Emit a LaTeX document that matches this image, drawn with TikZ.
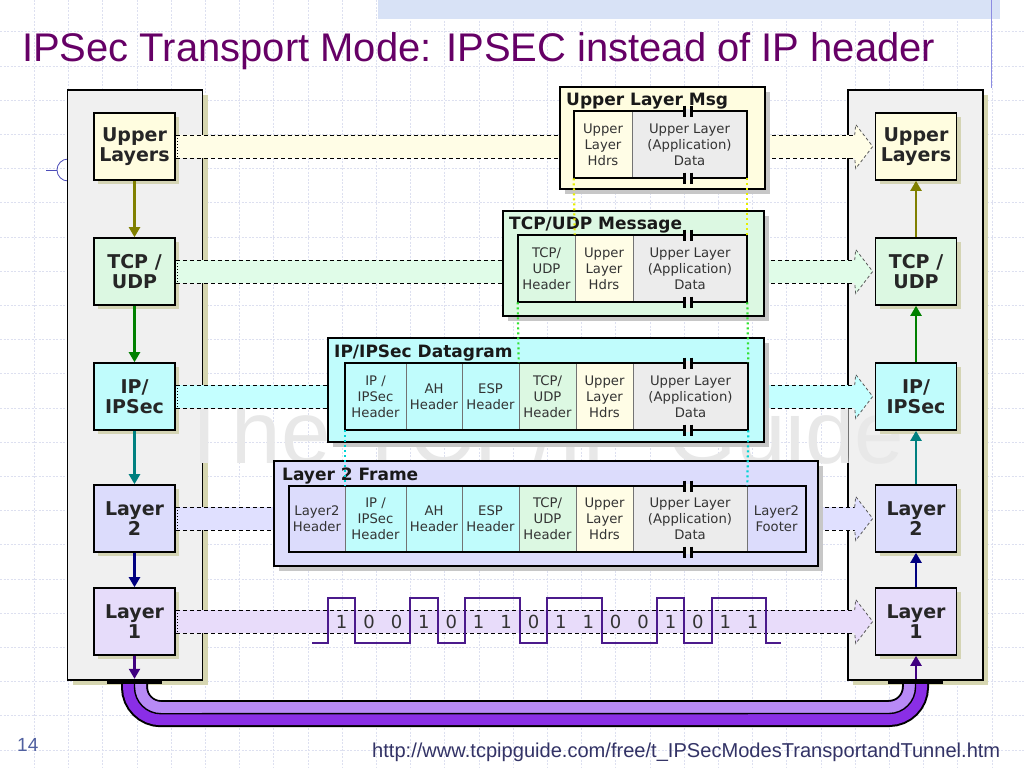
\documentclass[tikz,border=0pt]{standalone}
\usepackage{fontspec}
\setmainfont{DejaVu Sans}
\newfontfamily\lib{Liberation Sans}
\usetikzlibrary{calc,shadows,arrows.meta}
\definecolor{titlec}{HTML}{660066}
\definecolor{urlc}{HTML}{333366}
\definecolor{numc}{HTML}{5060A0}
\definecolor{gridc}{HTML}{DDE0F0}
\definecolor{bandc}{HTML}{D8E2F6}
\definecolor{panelc}{HTML}{F0F0F0}
\definecolor{pshadow}{HTML}{D6D6B0}
\definecolor{nshadow}{HTML}{D4D4B4}
\definecolor{cyel}{HTML}{FFFDE0}
\definecolor{cgrn}{HTML}{DCF8E2}
\definecolor{ccya}{HTML}{C0FCFC}
\definecolor{clav}{HTML}{DCDCFC}
\definecolor{cpur}{HTML}{E6DCFA}
\definecolor{cgry}{HTML}{ECECEC}
\definecolor{pyel}{HTML}{FFFDE6}
\definecolor{pgrn}{HTML}{E0FCE8}
\definecolor{pcya}{HTML}{C4FFFF}
\definecolor{plav}{HTML}{E0E0FF}
\definecolor{ppur}{HTML}{E8DCFA}
\definecolor{aolive}{HTML}{808000}
\definecolor{agreen}{HTML}{008000}
\definecolor{ateal}{HTML}{008080}
\definecolor{anavy}{HTML}{000080}
\definecolor{aindigo}{HTML}{400080}
\definecolor{dyel}{HTML}{E6EE00}
\definecolor{dgrn}{HTML}{30E030}
\definecolor{dcya}{HTML}{00D4D4}
\definecolor{cabA}{HTML}{8A2EE6}
\definecolor{cabB}{HTML}{B88AF6}
\definecolor{sigc}{HTML}{4B1A8C}
\newcommand\pipeseg[3]{%
  \fill[#3] ($(#1)+(0,-11.5)$) rectangle ($(#2)+(0,11.5)$);
  \draw[pipeline] ($(#1)+(0,-11.5)$) -- ($(#2)+(0,-11.5)$);
  \draw[pipeline] ($(#1)+(0,11.5)$) -- ($(#2)+(0,11.5)$);
}
\newcommand\pipehead[2]{%
  \fill[#2] ($(#1)+(0,-11.5)$) -- ($(#1)+(1,-22)$) -- ($(#1)+(18,0)$) -- ($(#1)+(1,22)$) -- ($(#1)+(0,11.5)$) -- cycle;
  \draw[headline] ($(#1)+(0,-11.5)$) -- ($(#1)+(1,-22)$) -- ($(#1)+(18,0)$) -- ($(#1)+(1,22)$) -- ($(#1)+(0,11.5)$);
}
\newcommand\cellnode[7]{%
  \node[cellbox, fill=#6, minimum width=#4pt, minimum height=#5pt] (#1) at (#2,#3) {#7};
}
\newcommand\brk[2]{%
  \fill[#2] (685.5,#1-1.8) rectangle (690.5,#1+1.8);
  \draw[line width=2.2pt] (684.5,#1-5.5) -- (684.5,#1+5.5);
  \draw[line width=2.2pt] (691.5,#1-5.5) -- (691.5,#1+5.5);
}
\tikzset{
  panel/.style={draw=black, line width=1.5pt, fill=panelc, minimum width=135pt, minimum height=590pt, inner sep=0,
    drop shadow={shadow xshift=5pt, shadow yshift=-5pt, fill=pshadow, opacity=1}},
  layer/.style={draw=black, line width=1.6pt, minimum width=81pt, minimum height=67pt, inner sep=0, align=center,
    font=\fontsize{19}{20.5}\selectfont\bfseries, text=black!85,
    drop shadow={shadow xshift=4pt, shadow yshift=-4pt, fill=nshadow, opacity=1}},
  msgbox/.style={draw=black, line width=2pt, inner sep=0,
    drop shadow={shadow xshift=5pt, shadow yshift=-5pt, fill=black!22, opacity=1}},
  cellbox/.style={draw=black!55, line width=0.6pt, inner sep=0, align=center,
    font=\fontsize{13.2}{16}\selectfont, text=black!80},
  boxtitle/.style={anchor=base west, inner sep=0, font=\fontsize{17}{17}\selectfont\bfseries, text=black!90},
  pipeline/.style={draw=black, line width=0.9pt, dash pattern=on 4pt off 3pt},
  headline/.style={draw=black!65, line width=0.8pt, dash pattern=on 3pt off 2.5pt},
  updown/.style={line width=2.2pt, -{Triangle[width=11pt,length=10pt]}},
  linkdots/.style={line width=2.2pt, dash pattern=on 2pt off 3pt},
  barnode/.style={fill=black, minimum width=55pt, minimum height=5pt, inner sep=0},
  bitlabel/.style={font=\fontsize{18}{18}\selectfont, text=black!80, inner sep=0}
}
\begin{document}
\begin{tikzpicture}[x=1pt,y=-1pt]
\useasboundingbox (0,0) rectangle (1024,768);
\fill[white] (0,0) rectangle (1024,768);
% slide background grid
\foreach \i in {1,...,29} \draw[gridc, line width=0.6pt, dash pattern=on 2pt off 1.5pt] (34.2*\i,0) -- (34.2*\i,768);
\foreach \j in {0,...,21} \draw[gridc, line width=0.6pt, dash pattern=on 2pt off 1.5pt] (0,31.6+34.2*\j) -- (1024,31.6+34.2*\j);
\fill[bandc] (378,0) rectangle (1000,19);
\draw[black!25!blue!45, line width=0.8pt] (991,0) -- (991,88);
\draw[blue!60!black!70, line width=0.8pt] (46,170) -- (57,170);
\draw[blue!60!black!70, line width=0.8pt] (68,170) circle (11);
% title
\node[anchor=base west, inner sep=0, text=titlec] (title) at (22,62) {\resizebox{913pt}{!}{\lib\fontsize{40}{40}\selectfont IPSec Transport Mode: IPSEC instead of IP header}};
% panels
\node[panel] (lp) at (135,385) {};
\node[panel] (rp) at (915.5,385) {};
% watermark
\node[inner sep=0, text=black!9] (wm) at (541,432) {\resizebox{727pt}{!}{\lib\fontsize{90}{90}\selectfont The TCP/IP Guide}};
% cable
\node[barnode] (lbar) at (134.5,681.5) {};
\node[barnode] (rbar) at (915.5,681.5) {};
\draw[black, line width=27pt] (lbar.south) -- ++(0,3) arc[start angle=180, end angle=90, radius=26.5] -- (889,713.5) arc[start angle=90, end angle=0, radius=26.5] -- (rbar.south);
\draw[cabA, line width=23pt] (lbar.south) -- ++(0,3) arc[start angle=180, end angle=90, radius=26.5] -- (889,713.5) arc[start angle=90, end angle=0, radius=26.5] -- (rbar.south);
\draw[cabB, line width=11.5pt] (140.25,684) -- (140.25,687) arc[start angle=180, end angle=90, radius=20.75] -- (889,707.75) arc[start angle=90, end angle=0, radius=20.75] -- (909.75,684);
\draw[black, line width=1.4pt] (lbar.south) -- ++(0,3) arc[start angle=180, end angle=90, radius=26.5] -- (889,713.5) arc[start angle=90, end angle=0, radius=26.5] -- (rbar.south);
\node[barnode] at (lbar) {};
\node[barnode] at (rbar) {};
% layer nodes
\node[layer, fill=cyel] (lu) at (134.5,146.5) {Upper\\Layers};
\node[layer, fill=cgrn] (lt) at (134.5,271.5) {TCP /\\UDP};
\node[layer, fill=ccya] (li) at (134.5,396.5) {IP/\\IPSec};
\node[layer, fill=clav] (l2) at (134.5,518.5) {Layer\\2};
\node[layer, fill=cpur] (l1) at (134.5,621.5) {Layer\\1};
\node[layer, fill=cyel] (ru) at (916,146.5) {Upper\\Layers};
\node[layer, fill=cgrn] (rt) at (916,271.5) {TCP /\\UDP};
\node[layer, fill=ccya] (ri) at (916,396.5) {IP/\\IPSec};
\node[layer, fill=clav] (r2) at (916,518.5) {Layer\\2};
\node[layer, fill=cpur] (r1) at (916,621.5) {Layer\\1};
% vertical arrows
\draw[updown, aolive] (lu.south) -- (lt.north);
\draw[updown, agreen] (lt.south) -- (li.north);
\draw[updown, ateal] (li.south) -- (l2.north);
\draw[updown, anavy] (l2.south) -- (l1.north);
\draw[updown, aindigo] (l1.south) -- (l1.south |- lbar.north);
\draw[updown, aolive] (rt.north) -- (ru.south);
\draw[updown, agreen] (ri.north) -- (rt.south);
\draw[updown, ateal] (r2.north) -- (ri.south);
\draw[updown, anavy] (r1.north) -- (r2.south);
\draw[updown, aindigo] (r1.south |- rbar.north) -- (r1.south);
% arrow-head anchor coordinates
\coordinate (hu) at ($(ru.west)+(-20,0)$);
\coordinate (ht) at ($(rt.west)+(-20,0)$);
\coordinate (hi) at ($(ri.west)+(-20,0)$);
\coordinate (h2) at ($(r2.west)+(-20,0)$);
\coordinate (h1) at ($(r1.west)+(-20,0)$);
% message box frames (coordinates)
\coordinate (umw) at (560,146.5);  \coordinate (ume) at (765,146.5);
\coordinate (tmw) at (503,271.5);  \coordinate (tme) at (764,271.5);
\coordinate (imw) at (328,396.5);  \coordinate (ime) at (764,396.5);
\coordinate (fmw) at (274,518.5);  \coordinate (fme) at (818,518.5);
% pipes
\pipeseg{lu.east}{umw}{pyel} \pipeseg{ume}{hu}{pyel} \pipehead{hu}{pyel}
\pipeseg{lt.east}{tmw}{pgrn} \pipeseg{tme}{ht}{pgrn} \pipehead{ht}{pgrn}
\pipeseg{li.east}{imw}{pcya} \pipeseg{ime}{hi}{pcya} \pipehead{hi}{pcya}
\pipeseg{l2.east}{fmw}{plav} \pipeseg{fme}{h2}{plav} \pipehead{h2}{plav}
\pipeseg{l1.east}{h1}{ppur} \pipehead{h1}{ppur}
\foreach \n in {lu,lt,li,l2,l1} \draw[black, line width=1pt, dotted] ($(\n.east)+(2,-11.5)$) -- ($(\n.east)+(2,11.5)$);
% Upper Layer Msg
\node[msgbox, fill=cyel, minimum width=205pt, minimum height=102pt] (um) at (662.5,138) {};
\node[boxtitle] (umt) at (566,105) {Upper Layer Msg};
\cellnode{u1}{603}{144.5}{58}{67}{pyel}{Upper\\Layer\\Hdrs}
\cellnode{u2}{689.5}{144.5}{115}{67}{cgry}{Upper Layer\\(Application)\\Data}
\draw[line width=2pt] (u1.north west) rectangle (u2.south east);
\brk{111}{cgry} \brk{178}{cgry}
% TCP/UDP Message
\node[msgbox, fill=cgrn, minimum width=261pt, minimum height=105pt] (tm) at (633.5,263.5) {};
\node[boxtitle] (tmt) at (509,229.5) {TCP/UDP Message};
\cellnode{t1}{546.5}{268.5}{57}{67}{cgrn}{TCP/\\UDP\\Header}
\cellnode{t2}{604}{268.5}{58}{67}{pyel}{Upper\\Layer\\Hdrs}
\cellnode{t3}{690}{268.5}{114}{67}{cgry}{Upper Layer\\(Application)\\Data}
\draw[line width=2pt] (t1.north west) rectangle (t3.south east);
\brk{235}{cgry} \brk{302}{cgry}
% IP/IPSec Datagram
\node[msgbox, fill=ccya, minimum width=436pt, minimum height=104pt] (im) at (546,390) {};
\node[boxtitle] (imt) at (334,357) {IP/IPSec Datagram};
\cellnode{i1}{375.5}{396.5}{61}{67}{ccya}{IP /\\IPSec\\Header}
\cellnode{i2}{434}{396.5}{56}{67}{ccya}{AH\\Header}
\cellnode{i3}{490.5}{396.5}{57}{67}{ccya}{ESP\\Header}
\cellnode{i4}{547.5}{396.5}{57}{67}{cgrn}{TCP/\\UDP\\Header}
\cellnode{i5}{604.5}{396.5}{57}{67}{pyel}{Upper\\Layer\\Hdrs}
\cellnode{i6}{690.5}{396.5}{115}{67}{cgry}{Upper Layer\\(Application)\\Data}
\draw[line width=2pt] (i1.north west) rectangle (i6.south east);
\brk{363}{cgry} \brk{430}{cgry}
% Layer 2 Frame
\node[msgbox, fill=clav, minimum width=544pt, minimum height=105pt] (fm) at (546,513.5) {};
\node[boxtitle] (fmt) at (282,480) {Layer 2 Frame};
\cellnode{f1}{317}{519}{56}{66}{clav}{Layer2\\Header}
\cellnode{f2}{375.5}{519}{61}{66}{ccya}{IP /\\IPSec\\Header}
\cellnode{f3}{434}{519}{56}{66}{ccya}{AH\\Header}
\cellnode{f4}{490.5}{519}{57}{66}{ccya}{ESP\\Header}
\cellnode{f5}{547.5}{519}{57}{66}{cgrn}{TCP/\\UDP\\Header}
\cellnode{f6}{604.5}{519}{57}{66}{pyel}{Upper\\Layer\\Hdrs}
\cellnode{f7}{690}{519}{114}{66}{cgry}{Upper Layer\\(Application)\\Data}
\cellnode{f8}{776.5}{519}{59}{66}{clav}{Layer2\\Footer}
\draw[line width=2pt] (f1.north west) rectangle (f8.south east);
\brk{486}{cgry} \brk{552}{cgry}
% dotted links
\draw[linkdots, dyel] (u1.south west) -- (t2.north west);
\draw[linkdots, dyel] (u2.south east) -- (t3.north east);
\draw[linkdots, dgrn] (t1.south west) -- (i4.north west);
\draw[linkdots, dgrn] (t3.south east) -- (i6.north east);
\draw[linkdots, dcya] (i1.south west) -- (f2.north west);
\draw[linkdots, dcya] (i6.south east) -- (f7.north east);
% bit signal
\draw[sigc, line width=2pt] (312,643) -- (328,643) -- (328,598) -- (355.4,598) -- (355.4,643) -- (410.2,643) -- (410.2,598) -- (437.6,598) -- (437.6,643) -- (465,643) -- (465,598) -- (519.8,598) -- (519.8,643) -- (547.2,643) -- (547.2,598) -- (602,598) -- (602,643) -- (656.8,643) -- (656.8,598) -- (684.2,598) -- (684.2,643) -- (711.6,643) -- (711.6,598) -- (766.4,598) -- (766.4,643) -- (781,643);
\foreach \b [count=\k from 0] in {1,0,0,1,0,1,1,0,1,1,0,0,1,0,1,1}
  \node[bitlabel] (bit\k) at (341.7+27.4*\k,622) {\b};
% footer
\node[anchor=base west, inner sep=0, text=numc] (pg) at (17,751) {\lib\fontsize{19}{19}\selectfont 14};
\node[anchor=base west, inner sep=0, text=urlc] (url) at (372,757) {\resizebox{628pt}{!}{\lib\fontsize{20}{20}\selectfont http://www.tcpipguide.com/free/t\_IPSecModesTransportandTunnel.htm}};
\end{tikzpicture}
\end{document}
